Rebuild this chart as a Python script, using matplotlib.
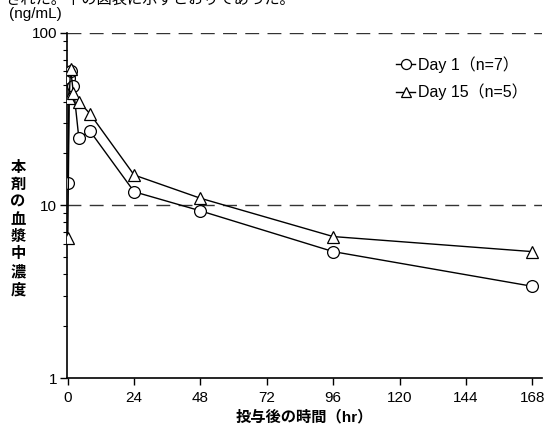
import matplotlib.pyplot as plt
from matplotlib.ticker import FixedLocator, LogLocator, NullFormatter

plt.rcParams['font.family'] = ['Liberation Sans', 'Noto Sans CJK JP', 'DejaVu Sans']

# time after dosing (hr) and plasma concentration (ng/mL)
time_hr = [0, 0.5, 1, 2, 4, 8, 24, 48, 96, 168]
day1_conc = [13.5, 55, 60, 49, 24.5, 27, 12, 9.3, 5.4, 3.4]
day15_conc = [6.5, 42, 62, 45, 40, 34, 15, 11, 6.6, 5.4]
x_ticks = [0, 24, 48, 72, 96, 120, 144, 168]
y_ticks = [1, 10, 100]
y_labels = ['1', '10', '100']

fig = plt.figure(figsize=(5.49, 4.32), dpi=100)
ax = fig.add_axes([0.122, 0.125, 0.865, 0.799])

for y in [10, 100]:
    ax.axhline(y, color='#333333', lw=1.0, ls=(0, (10, 6)), zorder=1)

ax.plot(time_hr, day1_conc, '-o', color='black', lw=1.0, ms=8.5,
        mfc='white', mec='black', mew=0.9, label='Day 1（n=7）', zorder=3)
ax.plot(time_hr, day15_conc, '-^', color='black', lw=1.0, ms=8.5,
        mfc='white', mec='black', mew=0.9, label='Day 15（n=5）', zorder=3)

ax.set_yscale('log')
ax.set_ylim(1, 100)
ax.set_xlim(-0.3, 171.5)
ax.xaxis.set_major_locator(FixedLocator(x_ticks))
ax.set_xticklabels([str(t) for t in x_ticks])
ax.yaxis.set_major_locator(FixedLocator(y_ticks))
ax.set_yticklabels(y_labels)
ax.yaxis.set_minor_locator(LogLocator(base=10, subs=range(2, 10)))
ax.yaxis.set_minor_formatter(NullFormatter())

ax.spines['top'].set_visible(False)
ax.spines['right'].set_visible(False)
ax.spines['left'].set_linewidth(1.2)
ax.spines['bottom'].set_linewidth(1.2)
ax.tick_params(axis='both', which='major', length=5, width=1, labelsize=11, direction='out')
ax.tick_params(axis='y', which='minor', length=3, width=0.8, direction='out')
ax.tick_params(axis='x', pad=4)
ax.tick_params(axis='y', pad=2)

ax.legend(loc='upper right', bbox_to_anchor=(1.0, 0.975), frameon=False,
          fontsize=11.5, handlelength=1.2, handletextpad=0.15, labelspacing=0.7,
          markerscale=0.85)

ax.set_xlabel('投与後の時間（hr）', fontsize=11, fontweight='bold', labelpad=4)
fig.text(0.033, 0.47, '\n'.join('本剤の血漿中濃度'), fontsize=11, fontweight='bold',
         ha='center', va='center', linespacing=1.3)
fig.text(0.017, 0.967, '(ng/mL)', fontsize=11, ha='left', va='center')
fig.text(0.01, 1.0, 'された。下の図表に示すとおりであった。', fontsize=11, ha='left', va='center')

fig.savefig('out.png', dpi=100)
